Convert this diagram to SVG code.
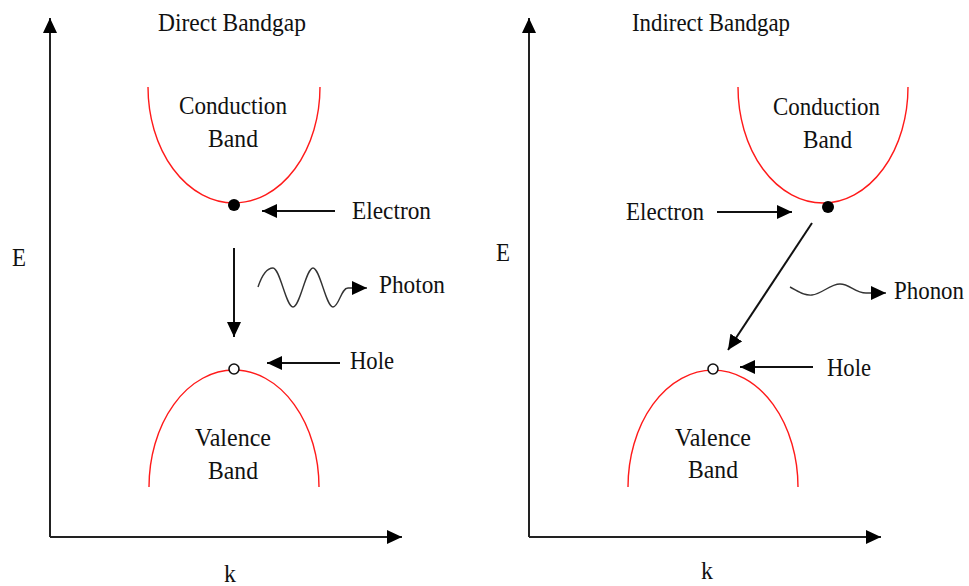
<svg xmlns="http://www.w3.org/2000/svg" width="969" height="586" viewBox="0 0 969 586">
<defs>
<marker id="ah" viewBox="0 0 15 14" refX="15" refY="7" markerWidth="15" markerHeight="14" markerUnits="userSpaceOnUse" orient="auto">
<path d="M0,0 L15,7 L0,14 z" fill="#000"/>
</marker>
</defs>
<style>
text{font-family:"Liberation Serif","Times New Roman",serif;font-size:25px;fill:#111}
.ax{stroke:#222;stroke-width:2;fill:none;marker-end:url(#ah)}
.arr{stroke:#111;stroke-width:2;fill:none;marker-end:url(#ah)}
.band{stroke:#ff1a1a;stroke-width:1.4;fill:none}
.wave{stroke:#333;stroke-width:1.4;fill:none;marker-end:url(#ah)}
</style>
<rect width="969" height="586" fill="#fff"/>
<g id="axes">
<line class="ax" x1="50" y1="537" x2="50" y2="18"/>
<line class="ax" x1="50" y1="537" x2="402" y2="537"/>
<line class="ax" x1="529" y1="537" x2="529" y2="18"/>
<line class="ax" x1="529" y1="537" x2="881" y2="537"/>
</g>
<g id="titles">
<text x="158" y="31" textLength="148" lengthAdjust="spacingAndGlyphs">Direct Bandgap</text>
<text x="632" y="31" textLength="158" lengthAdjust="spacingAndGlyphs">Indirect Bandgap</text>
<text x="12" y="266" textLength="14" lengthAdjust="spacingAndGlyphs">E</text>
<text x="496" y="261" textLength="14" lengthAdjust="spacingAndGlyphs">E</text>
<text x="224" y="582" textLength="12" lengthAdjust="spacingAndGlyphs">k</text>
<text x="701" y="579" textLength="12" lengthAdjust="spacingAndGlyphs">k</text>
</g>
<g id="direct-conduction-band">
<path class="band" d="M148,87 A86,116 0 0 0 320,87"/>
<text x="179" y="114" textLength="108" lengthAdjust="spacingAndGlyphs">Conduction</text>
<text x="208" y="147" textLength="50" lengthAdjust="spacingAndGlyphs">Band</text>
</g>
<g id="direct-valence-band">
<path class="band" d="M149,487 A85,117 0 0 1 319,487"/>
<text x="195" y="446" textLength="76" lengthAdjust="spacingAndGlyphs">Valence</text>
<text x="208" y="479" textLength="50" lengthAdjust="spacingAndGlyphs">Band</text>
</g>
<g id="direct-electron">
<circle cx="234" cy="205" r="6" fill="#000"/>
<text x="352" y="219" textLength="79" lengthAdjust="spacingAndGlyphs">Electron</text>
</g>
<g id="direct-hole">
<circle cx="234" cy="369" r="5" fill="#fff" stroke="#111" stroke-width="1.6"/>
<text x="350" y="369" textLength="44" lengthAdjust="spacingAndGlyphs">Hole</text>
</g>
<g id="photon">
<text x="379" y="293" textLength="66" lengthAdjust="spacingAndGlyphs">Photon</text>
</g>
<g id="indirect-conduction-band">
<path class="band" d="M738,87 A85,116 0 0 0 908,87"/>
<text x="773" y="115" textLength="107" lengthAdjust="spacingAndGlyphs">Conduction</text>
<text x="803" y="148" textLength="49" lengthAdjust="spacingAndGlyphs">Band</text>
</g>
<g id="indirect-valence-band">
<path class="band" d="M628,487 A85,117 0 0 1 798,487"/>
<text x="675" y="446" textLength="76" lengthAdjust="spacingAndGlyphs">Valence</text>
<text x="688" y="478" textLength="50" lengthAdjust="spacingAndGlyphs">Band</text>
</g>
<g id="indirect-electron">
<circle cx="828" cy="207" r="6" fill="#000"/>
<text x="626" y="220" textLength="78" lengthAdjust="spacingAndGlyphs">Electron</text>
</g>
<g id="indirect-hole">
<circle cx="713" cy="369" r="5" fill="#fff" stroke="#111" stroke-width="1.6"/>
<text x="827" y="376" textLength="44" lengthAdjust="spacingAndGlyphs">Hole</text>
</g>
<g id="phonon">
<text x="894" y="299" textLength="70" lengthAdjust="spacingAndGlyphs">Phonon</text>
</g>
<g id="connectors">
<line class="arr" x1="335" y1="211" x2="262" y2="211"/>
<line class="arr" x1="234" y1="248" x2="234" y2="337"/>
<line class="arr" x1="340" y1="363" x2="267" y2="363"/>
<path class="wave" d="M258,287 C262,275 267,268 273,268 C280,268 286,307 293,307 C300,307 306,268 313,268 C320,268 326,307 333,307 C339,307 341,288 348,288 L367,288"/>
<line class="arr" x1="717" y1="212" x2="792" y2="212"/>
<line class="arr" x1="812" y1="223" x2="728" y2="350"/>
<line class="arr" x1="813" y1="367" x2="740" y2="367"/>
<path class="wave" d="M790,287 C798,291 804,296 812,295 C822,294 830,284 840,284 C850,284 855,293 866,293 L886,293"/>
</g>
</svg>
